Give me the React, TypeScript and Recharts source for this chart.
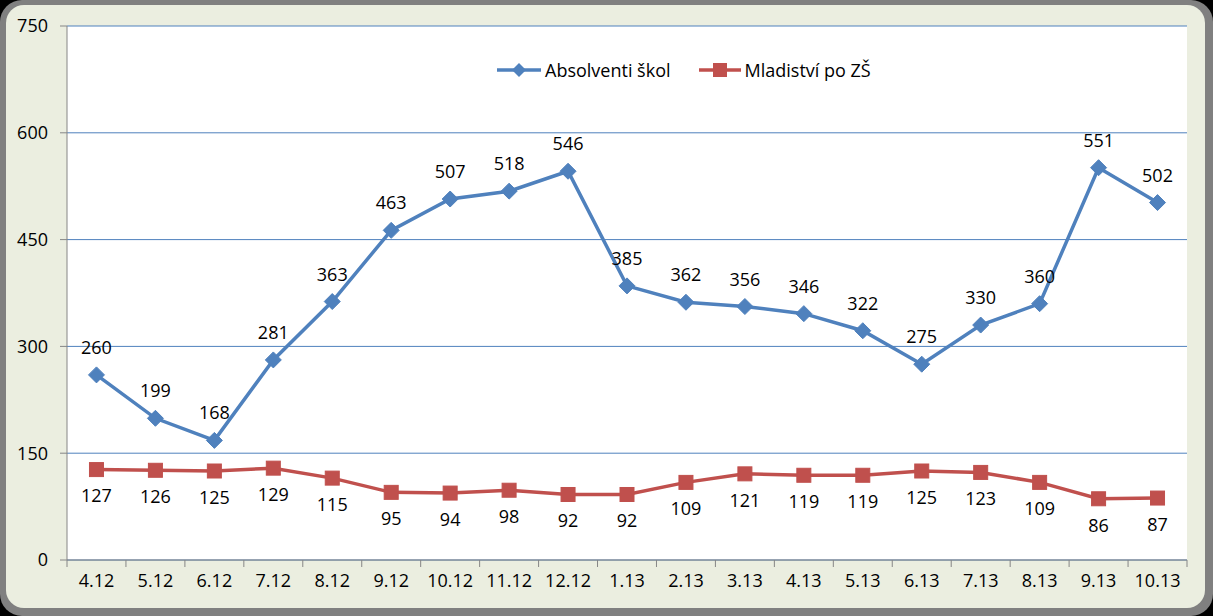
import React from 'react'
import { LineChart, Line, XAxis, YAxis, CartesianGrid, LabelList } from 'recharts'

const months = ['4.12', '5.12', '6.12', '7.12', '8.12', '9.12', '10.12', '11.12', '12.12', '1.13', '2.13', '3.13', '4.13', '5.13', '6.13', '7.13', '8.13', '9.13', '10.13']
const absolventi = [260, 199, 168, 281, 363, 463, 507, 518, 546, 385, 362, 356, 346, 322, 275, 330, 360, 551, 502]
const mladistvi = [127, 126, 125, 129, 115, 95, 94, 98, 92, 92, 109, 121, 119, 119, 125, 123, 109, 86, 87]
const yTicks = [0, 150, 300, 450, 600, 750]

const data = months.map((m, i) => ({ month: m, absolventi: absolventi[i], mladistvi: mladistvi[i] }))

const BLUE = '#4F81BD'
const RED = '#C0504D'
const FONT = '"Open Sans", sans-serif'
const W = 1213
const H = 616
const PLOT_W = 1120
const BAND = PLOT_W / months.length

const Diamond = (props: any) => {
  const { cx, cy } = props
  if (cx == null || cy == null) return null
  const r = 8
  return <polygon points={`${cx},${cy - r} ${cx + r},${cy} ${cx},${cy + r} ${cx - r},${cy}`} fill={BLUE} stroke={BLUE} strokeWidth={1} />
}

const Square = (props: any) => {
  const { cx, cy } = props
  if (cx == null || cy == null) return null
  const s = 7
  return <rect x={cx - s} y={cy - s} width={s * 2} height={s * 2} fill={RED} stroke={RED} strokeWidth={1} />
}

const XTick = (props: any) => {
  const { x, y, payload, index } = props
  return (
    <g>
      <line x1={x - BAND / 2} x2={x - BAND / 2} y1={y} y2={y + 7} stroke="#868686" />
      {index === months.length - 1 && <line x1={x + BAND / 2} x2={x + BAND / 2} y1={y} y2={y + 7} stroke="#868686" />}
      <text x={x} y={y + 27} textAnchor="middle" fill="#000" fontSize={18} fontFamily={FONT}>{payload.value}</text>
    </g>
  )
}

const LegendBox = () => (
  <div style={{ position: 'absolute', left: 497, top: 58, display: 'flex', alignItems: 'center', fontFamily: FONT, fontSize: 18, color: '#000', lineHeight: '24px' }}>
    <svg width={44} height={16} style={{ marginRight: 4 }}>
      <line x1={0} x2={44} y1={8} y2={8} stroke={BLUE} strokeWidth={3.5} />
      <polygon points="22,1 29,8 22,15 15,8" fill={BLUE} />
    </svg>
    <span style={{ marginRight: 28 }}>Absolventi škol</span>
    <svg width={42} height={16} style={{ marginRight: 4 }}>
      <line x1={0} x2={42} y1={8} y2={8} stroke={RED} strokeWidth={3.5} />
      <rect x={14} y={1} width={14} height={14} fill={RED} />
    </svg>
    <span>Mladiství po ZŠ</span>
  </div>
)

export default function App() {
  return (
    <div style={{ position: 'fixed', left: 0, top: 0, width: W, height: H, background: '#000' }}>
      <div style={{ position: 'absolute', inset: 0, background: '#808080', borderRadius: 22 }} />
      <div style={{ position: 'absolute', left: 6, top: 5, width: W - 14, height: H - 13, background: '#EBEEE0', borderRadius: 18 }} />
      <div style={{ position: 'absolute', left: 0, top: 0 }}>
        <LineChart width={W} height={H} data={data} margin={{ top: 26, right: 26, left: 7, bottom: 16 }}>
          <CartesianGrid vertical={false} stroke={BLUE} strokeWidth={1} fill="#fff" fillOpacity={1} />
          <XAxis
            dataKey="month"
            height={40}
            interval={0}
            padding={{ left: BAND / 2, right: BAND / 2 }}
            tickLine={false}
            tickSize={0}
            tickMargin={0}
            axisLine={{ stroke: '#868686' }}
            tick={<XTick />}
          />
          <YAxis
            width={60}
            domain={[0, 750]}
            ticks={yTicks}
            interval={0}
            tickSize={7}
            tickMargin={12}
            tickLine={{ stroke: '#868686' }}
            axisLine={{ stroke: '#868686' }}
            tick={{ fill: '#000', fontSize: 18, fontFamily: FONT }}
          />
          <Line
            type="linear"
            dataKey="absolventi"
            stroke={BLUE}
            strokeWidth={3.5}
            dot={<Diamond />}
            activeDot={false}
            isAnimationActive={false}
          >
            <LabelList dataKey="absolventi" position="top" offset={21} fill="#000" fontSize={18} fontFamily={FONT} />
          </Line>
          <Line
            type="linear"
            dataKey="mladistvi"
            stroke={RED}
            strokeWidth={3.5}
            dot={<Square />}
            activeDot={false}
            isAnimationActive={false}
          >
            <LabelList dataKey="mladistvi" position="bottom" offset={20} fill="#000" fontSize={18} fontFamily={FONT} />
          </Line>
        </LineChart>
      </div>
      <LegendBox />
    </div>
  )
}
